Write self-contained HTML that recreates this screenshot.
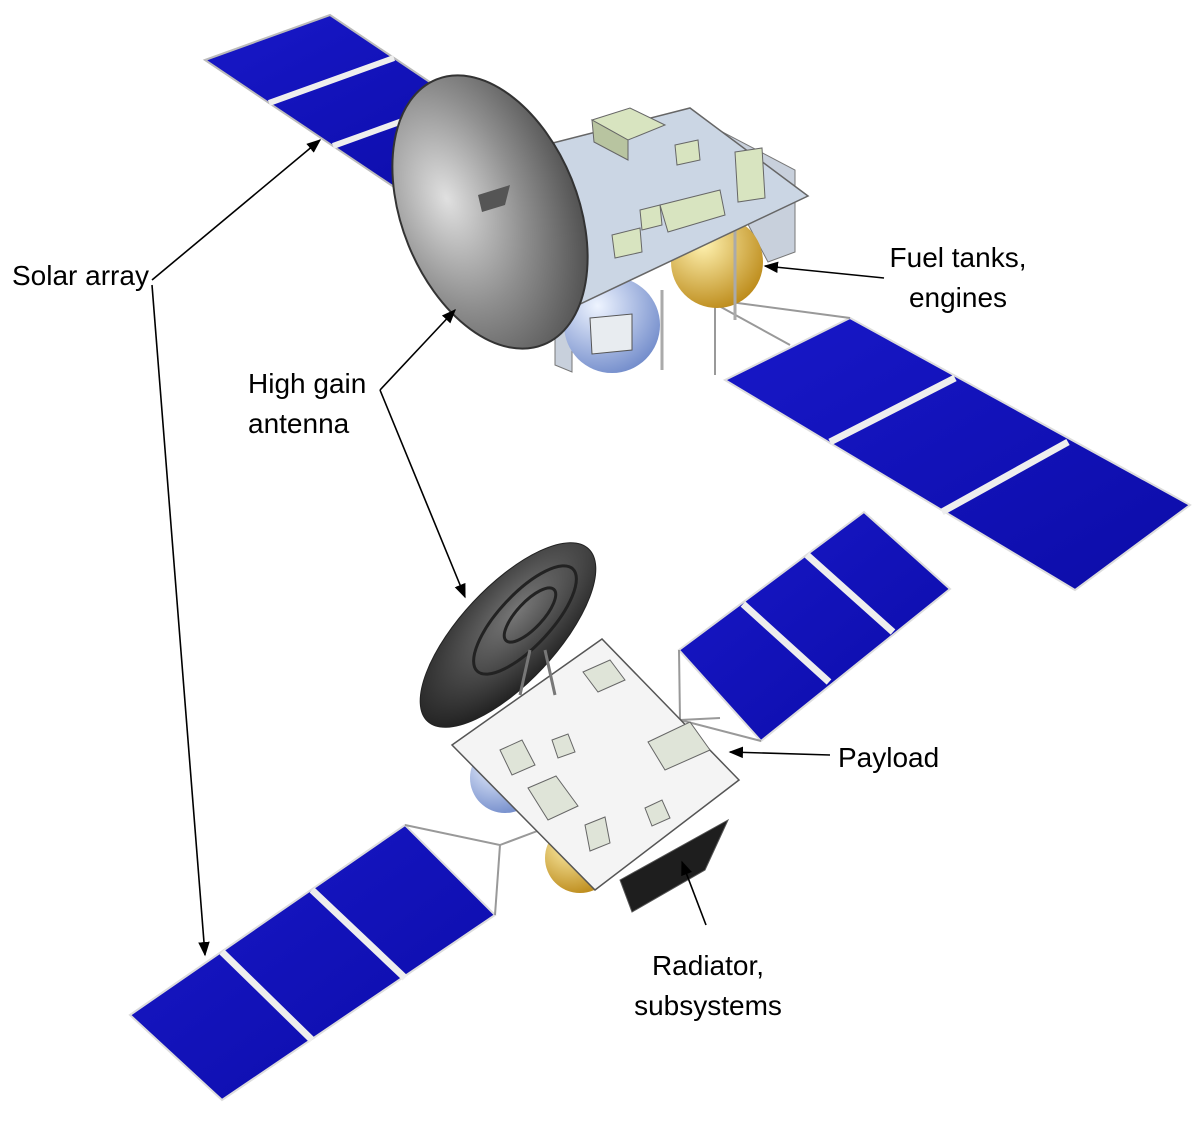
<!DOCTYPE html>
<html><head><meta charset="utf-8"><style>
html,body{margin:0;padding:0;background:#fff;}
svg{display:block;}
text{font-family:"Liberation Sans",sans-serif;font-size:28px;fill:#000;}
</style></head><body>
<svg width="1200" height="1134" viewBox="0 0 1200 1134" xmlns="http://www.w3.org/2000/svg">
<defs>
<linearGradient id="sol" x1="0" y1="0" x2="1" y2="1"><stop offset="0" stop-color="#1818c8"/><stop offset="1" stop-color="#0c0ca8"/></linearGradient>
<radialGradient id="dish" cx="0.3" cy="0.4" r="0.8"><stop offset="0" stop-color="#e0e0e0"/><stop offset="0.5" stop-color="#8e8e8e"/><stop offset="1" stop-color="#444"/></radialGradient>
<radialGradient id="dish2" cx="0.6" cy="0.4" r="0.7"><stop offset="0" stop-color="#777"/><stop offset="1" stop-color="#1a1a1a"/></radialGradient>
<radialGradient id="blue" cx="0.35" cy="0.3" r="0.8"><stop offset="0" stop-color="#eef4ff"/><stop offset="1" stop-color="#6b86c8"/></radialGradient>
<radialGradient id="gold" cx="0.35" cy="0.3" r="0.8"><stop offset="0" stop-color="#fff2b0"/><stop offset="1" stop-color="#b88410"/></radialGradient>
<marker id="ar" viewBox="0 0 10 10" refX="9" refY="5" markerWidth="9" markerHeight="9" orient="auto-start-reverse"><path d="M0,1 L10,5 L0,9 z" fill="#000"/></marker>
</defs>

<!-- top-left array -->
<polygon points="205,60 330,15 522,144 397,189" fill="url(#sol)" stroke="#bbb" stroke-width="2"/>
<line x1="269" y1="103" x2="394" y2="58" stroke="#eee" stroke-width="6"/>
<line x1="333" y1="146" x2="458" y2="101" stroke="#eee" stroke-width="6"/>

<!-- right array top -->
<polygon points="725,380 850,318 1190,505 1075,590" fill="url(#sol)" stroke="#ddd" stroke-width="2"/>
<line x1="830" y1="442" x2="955" y2="378" stroke="#eee" stroke-width="7"/>
<line x1="942" y1="512" x2="1068" y2="442" stroke="#eee" stroke-width="7"/>
<g stroke="#999" stroke-width="2" fill="none">
<polyline points="715,375 715,300 850,318"/>
<line x1="690" y1="290" x2="790" y2="345"/>
</g>

<!-- top body -->
<polygon points="555,160 555,365 572,372 572,168" fill="#c8d0dc" stroke="#777"/>
<polygon points="690,115 795,170 795,252 768,262" fill="#c8d0dc" stroke="#777"/>
<circle cx="612" cy="325" r="48" fill="url(#blue)"/>
<circle cx="717" cy="262" r="46" fill="url(#gold)"/>
<line x1="662" y1="290" x2="662" y2="370" stroke="#aaa" stroke-width="3"/>
<line x1="735" y1="230" x2="735" y2="320" stroke="#aaa" stroke-width="3"/>
<polygon points="545,145 690,108 808,196 578,305" fill="#cbd6e4" stroke="#666" stroke-width="1.5"/>
<polygon points="592,120 630,108 665,125 628,140" fill="#d8e4c0" stroke="#666"/>
<polygon points="592,120 628,140 628,160 594,142" fill="#b8c4a0" stroke="#666"/>
<polygon points="660,205 720,190 725,215 668,232" fill="#d8e4c0" stroke="#666"/>
<polygon points="735,152 762,148 765,198 738,202" fill="#d8e4c0" stroke="#666"/>
<polygon points="612,235 640,228 642,252 615,258" fill="#d8e4c0" stroke="#666"/>
<polygon points="640,210 660,205 662,225 642,230" fill="#d8e4c0" stroke="#666"/>
<polygon points="675,145 698,140 700,160 677,165" fill="#d8e4c0" stroke="#666"/>
<polygon points="590,318 632,314 632,350 592,354" fill="#e8ecf0" stroke="#555"/>

<!-- dish top -->
<ellipse cx="490" cy="212" rx="88" ry="143" transform="rotate(-22 490 212)" fill="url(#dish)" stroke="#333" stroke-width="2"/>
<polygon points="478,195 510,185 505,205 482,212" fill="#555"/>

<!-- bottom spacecraft -->
<polygon points="679,650 864,512 950,589 761,741" fill="url(#sol)" stroke="#ddd" stroke-width="2"/>
<line x1="743" y1="604" x2="829" y2="682" stroke="#eee" stroke-width="7"/>
<line x1="807" y1="555" x2="893" y2="632" stroke="#eee" stroke-width="7"/>
<polygon points="130,1015 405,825 495,915 222,1100" fill="url(#sol)" stroke="#ddd" stroke-width="2"/>
<line x1="222" y1="952" x2="312" y2="1040" stroke="#eee" stroke-width="7"/>
<line x1="312" y1="890" x2="405" y2="978" stroke="#eee" stroke-width="7"/>
<g stroke="#999" stroke-width="2" fill="none">
<polyline points="495,915 500,845 405,825"/>
<line x1="500" y1="845" x2="540" y2="830"/>
<polyline points="679,650 680,720 761,741"/>
<line x1="680" y1="720" x2="720" y2="718"/>
</g>

<circle cx="505" cy="778" r="35" fill="url(#blue)"/>
<circle cx="580" cy="858" r="35" fill="url(#gold)"/>
<polygon points="620,880 728,820 705,870 632,912" fill="#1e1e1e" stroke="#555"/>
<polygon points="452,745 602,639 739,780 595,890" fill="#f4f4f4" stroke="#555" stroke-width="1.5"/>
<polygon points="583,672 610,660 625,680 598,692" fill="#dfe4d8" stroke="#666"/>
<polygon points="648,742 690,722 710,750 665,770" fill="#dfe4d8" stroke="#666"/>
<polygon points="528,788 556,776 578,806 548,820" fill="#dfe4d8" stroke="#666"/>
<polygon points="500,750 522,740 535,765 512,775" fill="#dfe4d8" stroke="#666"/>
<polygon points="585,825 605,817 610,843 590,851" fill="#dfe4d8" stroke="#666"/>
<polygon points="552,740 568,734 575,752 558,758" fill="#dfe4d8" stroke="#666"/>
<polygon points="645,808 662,800 670,818 652,826" fill="#dfe4d8" stroke="#666"/>

<ellipse cx="508" cy="635" rx="118" ry="48" transform="rotate(-47 508 635)" fill="url(#dish2)" stroke="#222"/>
<ellipse cx="525" cy="620" rx="70" ry="26" transform="rotate(-47 525 620)" fill="none" stroke="#222" stroke-width="3"/>
<ellipse cx="530" cy="615" rx="35" ry="13" transform="rotate(-47 530 615)" fill="none" stroke="#222" stroke-width="3"/>
<line x1="530" y1="650" x2="520" y2="695" stroke="#777" stroke-width="3"/>
<line x1="545" y1="650" x2="555" y2="695" stroke="#777" stroke-width="3"/>

<!-- arrows -->
<g stroke="#000" stroke-width="1.6" fill="none">
<line x1="152" y1="280" x2="320" y2="140" marker-end="url(#ar)"/>
<line x1="152" y1="285" x2="205" y2="955" marker-end="url(#ar)"/>
<line x1="380" y1="390" x2="455" y2="310" marker-end="url(#ar)"/>
<line x1="380" y1="390" x2="465" y2="597" marker-end="url(#ar)"/>
<line x1="884" y1="278" x2="765" y2="266" marker-end="url(#ar)"/>
<line x1="830" y1="755" x2="730" y2="752" marker-end="url(#ar)"/>
<line x1="706" y1="925" x2="682" y2="862" marker-end="url(#ar)"/>
</g>

<text x="12" y="285">Solar array</text>
<text x="248" y="393">High gain</text>
<text x="248" y="433">antenna</text>
<text x="958" y="267" text-anchor="middle">Fuel tanks,</text>
<text x="958" y="307" text-anchor="middle">engines</text>
<text x="838" y="767">Payload</text>
<text x="708" y="975" text-anchor="middle">Radiator,</text>
<text x="708" y="1015" text-anchor="middle">subsystems</text>
</svg>
</body></html>
